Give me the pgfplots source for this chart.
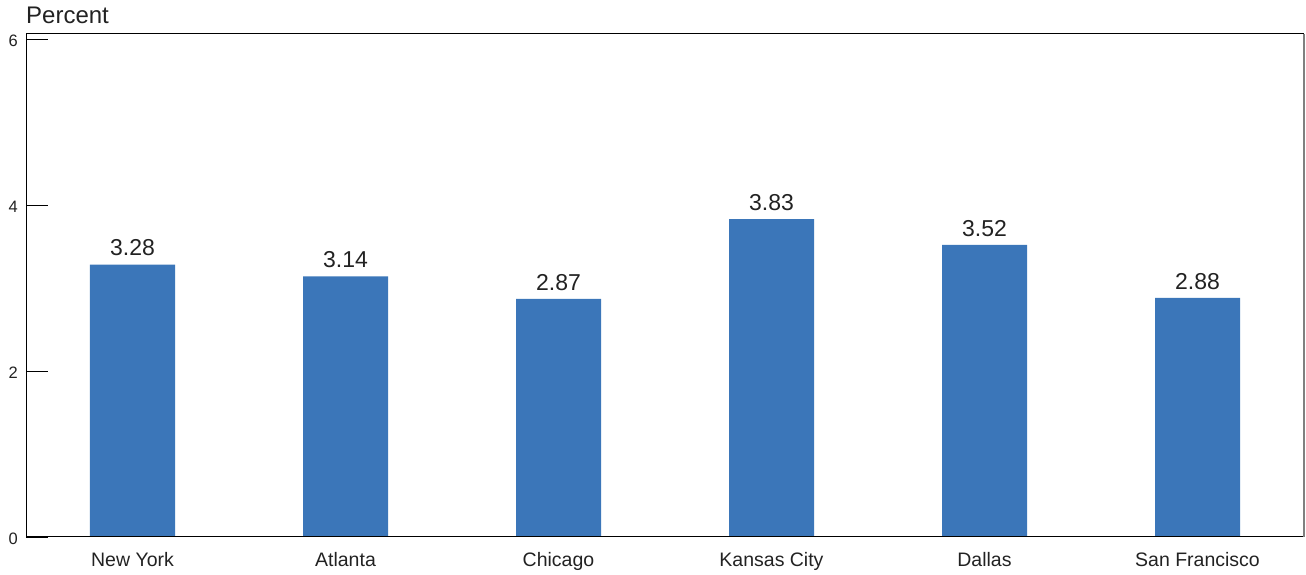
\documentclass[border=0pt]{standalone}
\usepackage{pgfplots}
\pgfplotsset{compat=1.18}
\usepackage{fontspec}
\setmainfont{Liberation Sans}
\definecolor{barblue}{HTML}{3B76B9}
\definecolor{txt}{HTML}{222222}
\begin{document}
\begin{tikzpicture}[x=1pt,y=1pt]
\useasboundingbox (0,0) rectangle (1306,575);
\begin{axis}[
  at={(26pt,38pt)}, anchor=south west,
  scale only axis, width=1278pt, height=503pt,
  xmin=-0.5, xmax=5.5, ymin=0, ymax=6.06,
  axis line style={draw=none},
  xtick=data,
  xticklabels={New York, Atlanta, Chicago, Kansas City, Dallas, San Francisco},
  xticklabel style={font=\fontsize{19.5}{21}\selectfont, text=txt, anchor=north, inner sep=0pt, yshift=7pt},
  major x tick style={draw=none},
  ytick={0,2,4,6},
  yticklabels={0,2,4,6},
  ytick pos=left,
  tick align=inside,
  major tick length=22pt,
  y tick style={black, line width=0.8pt},
  yticklabel style={font=\fontsize{16.5}{18}\selectfont, text=txt, anchor=east, inner sep=0pt, xshift=-8pt, yshift=-2pt},
  /pgf/number format/assume math mode=true,
  ybar, bar width=85pt,
  nodes near coords,
  nodes near coords style={font=\fontsize{23}{25}\selectfont, text=txt, yshift=5pt, /pgf/number format/fixed, /pgf/number format/precision=2, /pgf/number format/fixed zerofill},
  clip=false,
]
\addplot[fill=barblue, draw=none] coordinates {(0,3.28) (1,3.14) (2,2.87) (3,3.83) (4,3.52) (5,2.88)};
\draw[black, line width=1pt] (rel axis cs:0,1) -- (rel axis cs:0,0) -- (rel axis cs:1,0);
\draw[black, line width=1pt] (rel axis cs:0,1) -- (rel axis cs:1,1);
\draw[gray, line width=1.5pt] (rel axis cs:1,0) -- (rel axis cs:1,1);
\node[anchor=base west, font=\fontsize{24}{26}\selectfont, text=txt, inner sep=0pt] at ([yshift=10pt]rel axis cs:0,1) {Percent};
\end{axis}
\end{tikzpicture}
\end{document}
